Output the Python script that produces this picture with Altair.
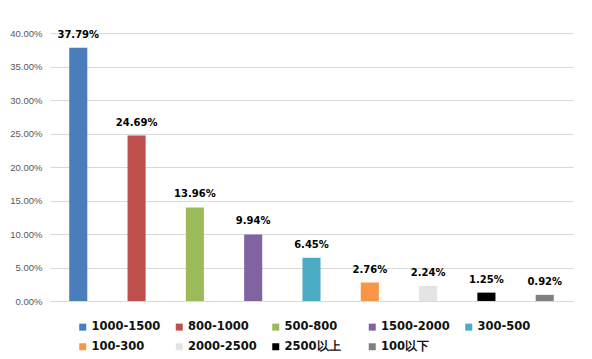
import altair as alt
import pandas as pd

categories = ["1000-1500", "800-1000", "500-800", "1500-2000", "300-500",
              "100-300", "2000-2500", "2500以上", "100以下"]
values = [37.79, 24.69, 13.96, 9.94, 6.45, 2.76, 2.24, 1.25, 0.92]
colors = ["#4a7ebb", "#c0504d", "#9bbb59", "#8064a2", "#4bacc6",
          "#f79646", "#e4e4e4", "#000000", "#808080"]
y_ticks = [0, 0.05, 0.10, 0.15, 0.20, 0.25, 0.30, 0.35, 0.40]

df = pd.DataFrame({
    "cat": categories,
    "v": [v / 100 for v in values],
    "label": [f"{v:.2f}%" for v in values],
})

y_axis = alt.Axis(values=y_ticks, format=".2%", grid=True, domain=False,
                  ticks=False, labelPadding=8, labelFont="Liberation Sans",
                  labelFontSize=9.5, labelColor="#595959", labelOverlap=False,
                  tickCount=9, gridColor="#d9d9d9", gridWidth=1, title=None)

base = alt.Chart(df).encode(
    x=alt.X("cat:N", sort=categories, axis=None,
            scale=alt.Scale(paddingInner=0.69, paddingOuter=0.33)),
    y=alt.Y("v:Q", scale=alt.Scale(domain=[0, 0.4]), axis=y_axis),
)

bars = base.mark_bar().encode(
    color=alt.Color("cat:N", sort=categories,
                    scale=alt.Scale(domain=categories, range=colors),
                    legend=alt.Legend(orient="none", legendX=27, legendY=288,
                                      direction="horizontal", columns=5,
                                      gridAlign="all", columnPadding=12.5,
                                      rowPadding=7, symbolType="square",
                                      symbolSize=49, symbolStrokeWidth=0,
                                      labelFont="DejaVu Sans", labelFontWeight="bold",
                                      labelFontSize=11.5, labelColor="#111111",
                                      labelOffset=3, padding=0, title=None)),
)

text = base.mark_text(font="DejaVu Sans", fontWeight="bold", fontSize=10,
                      baseline="alphabetic", dy=-10, color="#000000").encode(
    text="label:N",
)

chart = alt.layer(bars, text).properties(
    width=523, height=268,
    padding={"left": 42, "top": 25, "right": 11, "bottom": 58},
    autosize=alt.AutoSizeParams(type="none"),
    background="white",
).configure_view(strokeWidth=0)

chart.save("out.html", embed_options={"renderer": "svg", "actions": False})
